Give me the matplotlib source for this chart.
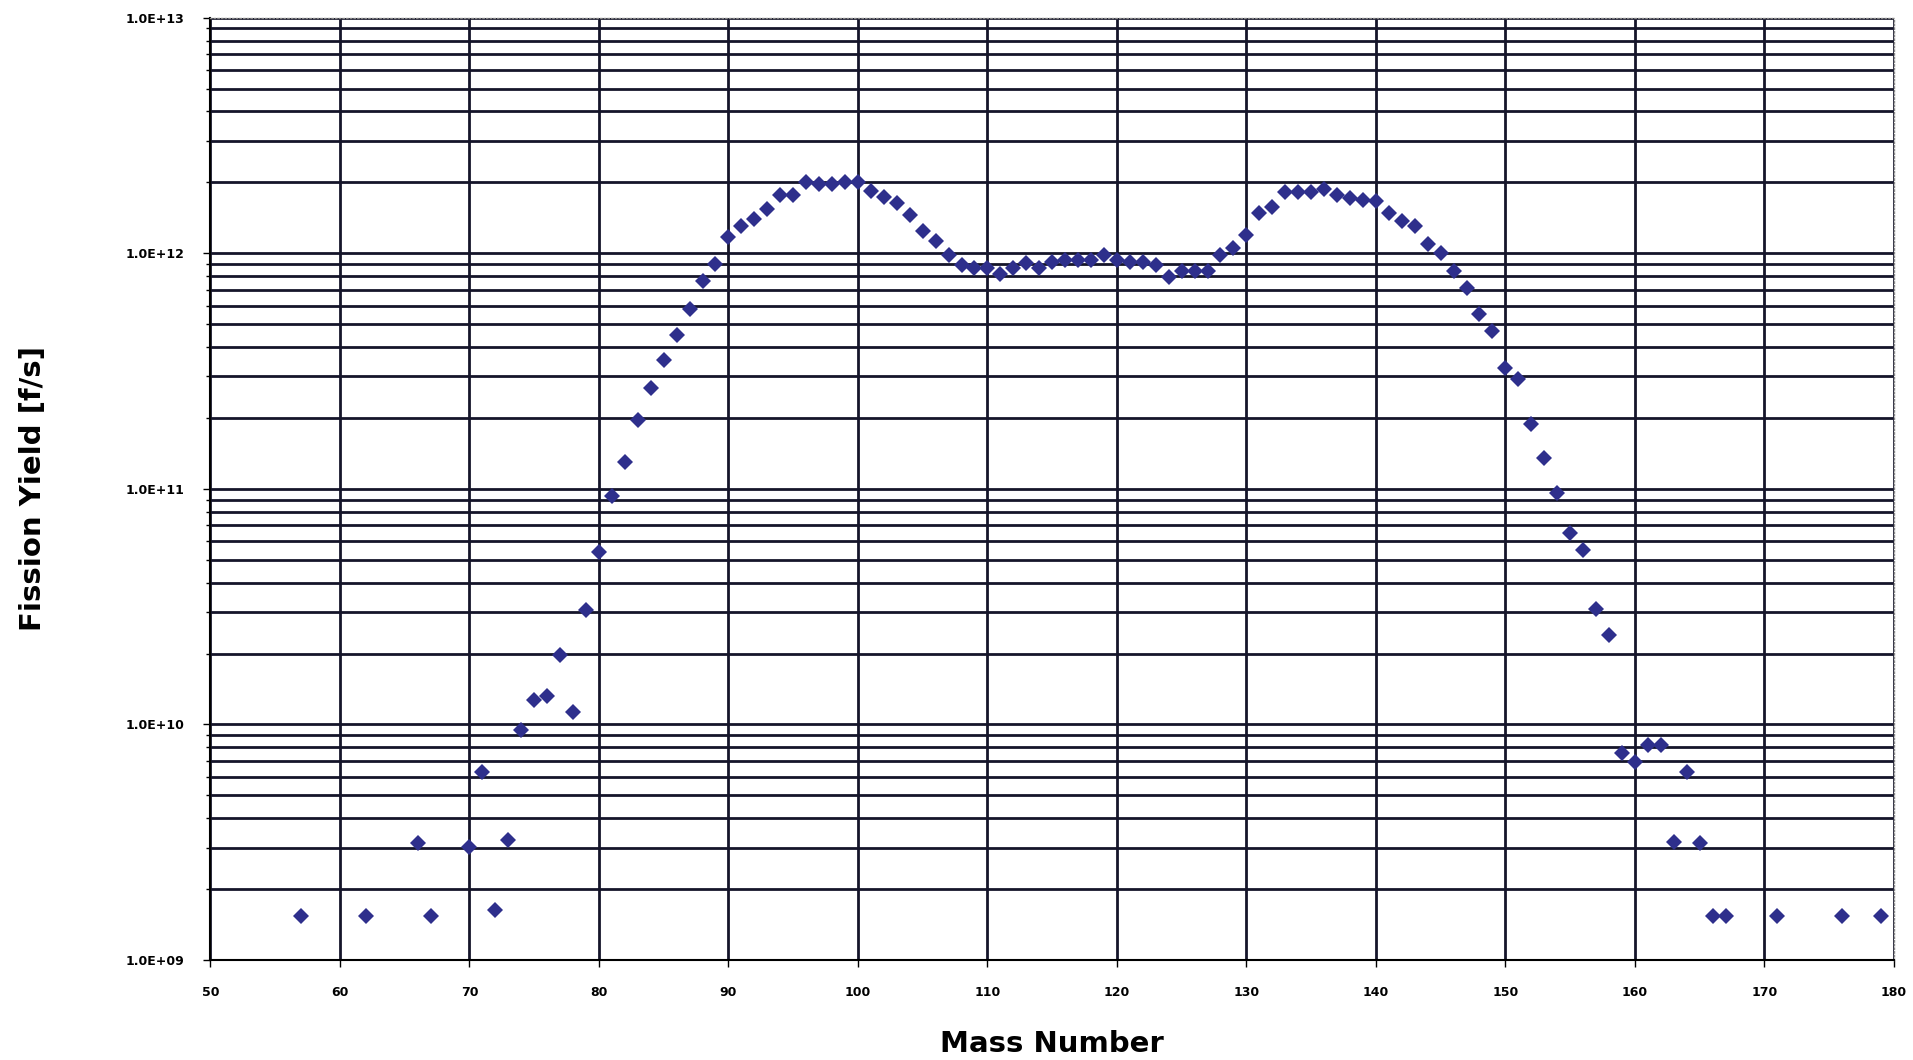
"""Fission yield vs mass number (log scale)."""

import matplotlib
matplotlib.use("Agg")
import matplotlib.pyplot as plt
from matplotlib.ticker import LogLocator, FixedLocator, NullFormatter

# Mass numbers and fission yields [f/s]
mass_number = [
    57, 62, 66, 67, 70, 71, 72, 73, 74, 75, 76, 77, 78, 79,
    80, 81, 82, 83, 84, 85, 86, 87, 88, 89,
    90, 91, 92, 93, 94, 95, 96, 97, 98, 99,
    100, 101, 102, 103, 104, 105, 106, 107, 108, 109,
    110, 111, 112, 113, 114, 115, 116, 117, 118, 119,
    120, 121, 122, 123, 124, 125, 126, 127, 128, 129,
    130, 131, 132, 133, 134, 135, 136, 137, 138, 139,
    140, 141, 142, 143, 144, 145, 146, 147, 148, 149,
    150, 151, 152, 153, 154, 155, 156, 157, 158, 159,
    160, 161, 162, 163, 164, 165, 166, 167, 171, 176, 179,
]
fission_yield = [
    1.54e9, 1.54e9, 3.15e9, 1.54e9, 3.03e9, 6.28e9, 1.63e9, 3.22e9, 9.5e9, 1.27e10,
    1.32e10, 1.97e10, 1.13e10, 3.07e10,
    5.38e10, 9.3e10, 1.30e11, 1.97e11, 2.69e11, 3.54e11, 4.50e11, 5.78e11, 7.6e11, 8.98e11,
    1.17e12, 1.31e12, 1.40e12, 1.54e12, 1.77e12, 1.77e12, 2.0e12, 1.96e12, 1.96e12, 2.0e12,
    2.0e12, 1.84e12, 1.74e12, 1.63e12, 1.45e12, 1.24e12, 1.13e12, 9.8e11, 8.9e11, 8.7e11,
    8.7e11, 8.2e11, 8.7e11, 9.1e11, 8.7e11, 9.2e11, 9.4e11, 9.4e11, 9.4e11, 9.8e11,
    9.4e11, 9.2e11, 9.2e11, 8.9e11, 7.9e11, 8.4e11, 8.4e11, 8.4e11, 9.8e11, 1.05e12,
    1.20e12, 1.48e12, 1.57e12, 1.82e12, 1.82e12, 1.82e12, 1.88e12, 1.77e12, 1.72e12, 1.68e12,
    1.66e12, 1.48e12, 1.37e12, 1.30e12, 1.10e12, 1.0e12, 8.4e11, 7.1e11, 5.5e11, 4.7e11,
    3.26e11, 2.92e11, 1.88e11, 1.35e11, 9.6e10, 6.5e10, 5.5e10, 3.1e10, 2.4e10, 7.6e9,
    6.9e9, 8.2e9, 8.2e9, 3.18e9, 6.3e9, 3.15e9, 1.54e9, 1.54e9, 1.54e9, 1.54e9, 1.54e9,
]

x_ticks = list(range(50, 181, 10))
y_ticks = [1e9, 1e10, 1e11, 1e12, 1e13]
y_tick_labels = ["1.0E+09", "1.0E+10", "1.0E+11", "1.0E+12", "1.0E+13"]

GRID_COLOR = "#15152a"
MARKER_COLOR = "#2e2f8c"

fig = plt.figure(figsize=(19.13, 10.60), dpi=100)
ax = fig.add_axes([0.110, 0.0943, 0.880, 0.889])

ax.plot(mass_number, fission_yield, linestyle="none", marker="D",
        markersize=8.5, color=MARKER_COLOR, markeredgewidth=0, zorder=3)

ax.set_yscale("log")
ax.set_xlim(50, 180)
ax.set_ylim(1e9, 1e13)

# Grid: vertical every 10, horizontal at every log minor/major step
ax.xaxis.set_major_locator(FixedLocator(x_ticks))
ax.set_xticklabels([str(t) for t in x_ticks])
ax.yaxis.set_major_locator(FixedLocator(y_ticks))
ax.set_yticklabels(y_tick_labels)
ax.yaxis.set_minor_locator(LogLocator(base=10, subs=range(2, 10), numticks=20))
ax.yaxis.set_minor_formatter(NullFormatter())

ax.grid(which="major", axis="both", color=GRID_COLOR, linewidth=2.0, zorder=1)
ax.grid(which="minor", axis="y", color=GRID_COLOR, linewidth=2.0, zorder=1)
ax.set_axisbelow(True)

ax.tick_params(axis="both", which="major", length=5, width=1, labelsize=9,
               color="black")
ax.tick_params(axis="x", which="major", pad=14)
ax.tick_params(axis="y", which="major", pad=14)
ax.tick_params(axis="y", which="minor", length=3, width=1)
for lbl in ax.get_xticklabels() + ax.get_yticklabels():
    lbl.set_fontweight("bold")

for side in ["left", "bottom"]:
    ax.spines[side].set_color("black")
    ax.spines[side].set_linewidth(1.5)
for side in ["top", "right"]:
    ax.spines[side].set_color("#888888")
    ax.spines[side].set_linewidth(1.0)
    ax.spines[side].set_linestyle(":")

ax.set_xlabel("Mass Number", fontsize=21, fontweight="bold", labelpad=22)
ax.set_ylabel("Fission Yield [f/s]", fontsize=21, fontweight="bold", labelpad=56)

fig.savefig("out.png", dpi=100)
